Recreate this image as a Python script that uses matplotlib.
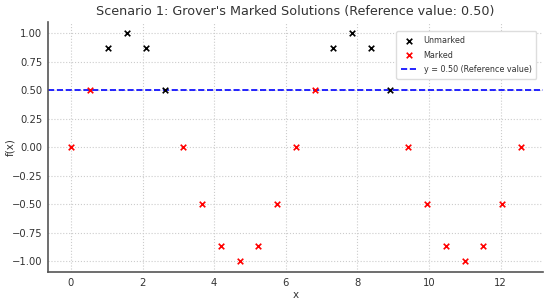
import numpy as np
import matplotlib
matplotlib.use("Agg")
import matplotlib.pyplot as plt

# points (x = k*pi/6, k = 0..24)
x_vals = [0.0, 0.524, 1.047, 1.571, 2.094, 2.618, 3.142, 3.665, 4.189, 4.712,
          5.236, 5.760, 6.283, 6.807, 7.330, 7.854, 8.378, 8.901, 9.425, 9.948,
          10.472, 10.996, 11.519, 12.043, 12.566]
f_vals = [0.0, 0.5, 0.866, 1.0, 0.866, 0.5, 0.0, -0.5, -0.866, -1.0,
          -0.866, -0.5, 0.0, 0.5, 0.866, 1.0, 0.866, 0.5, 0.0, -0.5,
          -0.866, -1.0, -0.866, -0.5, 0.0]
is_marked = [1, 1, 0, 0, 0, 0, 1, 1, 1, 1,
             1, 1, 1, 1, 0, 0, 0, 0, 1, 1,
             1, 1, 1, 1, 1]
ref_value = 0.50

x = np.array(x_vals)
f = np.array(f_vals)
m = np.array(is_marked, dtype=bool)

fig, ax = plt.subplots(figsize=(5.5, 3.02), dpi=100)
ax.scatter(x[~m], f[~m], marker="x", color="black", s=16, linewidths=1.2, label="Unmarked", zorder=3)
ax.scatter(x[m], f[m], marker="x", color="red", s=16, linewidths=1.2, label="Marked", zorder=3)
ax.axhline(ref_value, color="blue", linestyle="--", linewidth=1.2,
           label="y = 0.50 (Reference value)", zorder=2)

ax.set_title("Scenario 1: Grover's Marked Solutions (Reference value: 0.50)", fontsize=9.2, color="#333333", pad=5)
ax.set_xlabel("x", fontsize=7.5, color="#333333")
ax.set_ylabel("f(x)", fontsize=7.5, color="#333333")
ax.xaxis.set_label_coords(0.5, -0.07)
ax.yaxis.set_label_coords(-0.066, 0.5)
ax.set_xlim(-0.64, 13.18)
ax.set_ylim(-1.096, 1.096)
ax.set_yticks([-1.0, -0.75, -0.5, -0.25, 0.0, 0.25, 0.5, 0.75, 1.0])
ax.set_xticks([0, 2, 4, 6, 8, 10, 12])
ax.tick_params(labelsize=7.2, colors="#333333", length=0, pad=4)
ax.grid(True, linestyle=":", color="#cccccc", linewidth=0.8)
for side in ["top", "right"]:
    ax.spines[side].set_visible(False)
for side in ["left", "bottom"]:
    ax.spines[side].set_color("#555555")
    ax.spines[side].set_linewidth(1.2)

leg = ax.legend(loc="upper right", fontsize=5.8, framealpha=1, edgecolor="#dddddd",
                bbox_to_anchor=(0.995, 0.98), borderpad=0.6, handlelength=2.0,
                labelspacing=0.7)
for t in leg.get_texts():
    t.set_color("#333333")

fig.subplots_adjust(left=0.0873, right=0.987, top=0.927, bottom=0.0993)
fig.savefig("out.png", dpi=100)
